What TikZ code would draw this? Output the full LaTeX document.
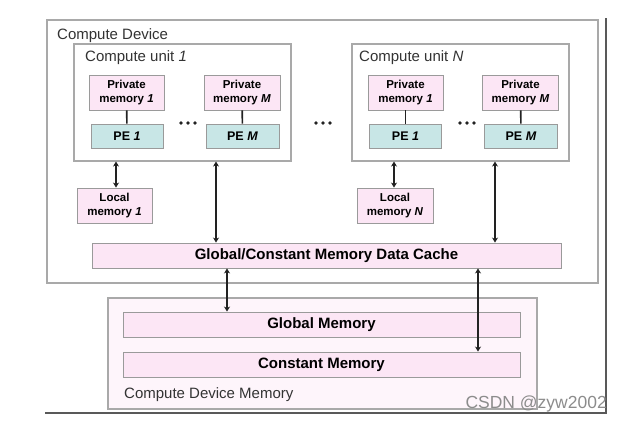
\documentclass[tikz,border=0pt]{standalone}
\usepackage{fontspec}
\setmainfont{Liberation Sans}
\usetikzlibrary{arrows.meta}
\definecolor{pinkfill}{HTML}{FCE6F5}
\definecolor{pinklight}{HTML}{FEF5FB}
\definecolor{pefill}{HTML}{C8E6E6}
\definecolor{boxline}{HTML}{9A9A9A}
\definecolor{darkline}{HTML}{222222}
\tikzset{
  framebox/.style={draw=boxline!85, line width=1.1pt, fill=white, inner sep=0pt},
  pmbox/.style={draw=boxline, line width=0.9pt, fill=pinkfill, inner sep=0pt,
    minimum width=75pt, minimum height=35pt, align=center,
    font=\fontsize{11.5}{13.5}\selectfont\bfseries},
  pebox/.style={draw=boxline, line width=0.9pt, fill=pefill, inner sep=0pt,
    minimum width=72pt, minimum height=24pt,
    font=\fontsize{12.5}{14}\selectfont\bfseries},
  barbox/.style={draw=boxline, line width=0.9pt, fill=pinkfill, inner sep=0pt,
    minimum height=25pt, font=\fontsize{15}{17}\selectfont\bfseries},
  lbl/.style={anchor=west, inner sep=0pt, text=black!80, font=\fontsize{15}{17}\selectfont},
  arr/.style={draw=darkline, line width=1.4pt, {Stealth[length=5pt,width=6pt]}-{Stealth[length=5pt,width=6pt]}},
  link/.style={draw=darkline, line width=1.6pt},
  dotm/.style={fill=darkline, circle, inner sep=0pt, minimum size=3.6pt}
}
\begin{document}
\begin{tikzpicture}[x=1pt,y=-1pt]
\useasboundingbox (0,0) rectangle (623,425);
% shadow frame
\draw[line width=2pt, draw=black!65] (45,413) -- (606,413) -- (606,18);
% compute device
\node[framebox, minimum width=551pt, minimum height=263pt] (dev) at (322.5,151.5) {};
\node[lbl] (devl) at (57,36) {Compute Device};
% compute units
\node[framebox, minimum width=217pt, minimum height=117pt] (cu1) at (182.5,102.5) {};
\node[framebox, minimum width=217pt, minimum height=117pt] (cuN) at (460.5,102.5) {};
\node[lbl] (cu1l) at (85,58) {Compute unit \textit{1}};
\node[lbl] (cuNl) at (359,58) {Compute unit \textit{N}};
% CU1 contents
\node[pmbox] (pm11) at (126.5,92.5) {Private\\memory \textit{1}};
\node[pebox] (pe11) at (127,136) {PE \textit{1}};
\node[pmbox, minimum width=76pt] (pm1M) at (242,92.5) {Private\\memory \textit{M}};
\node[pebox, minimum width=73pt] (pe1M) at (242.5,136) {PE \textit{M}};
% CUN contents
\node[pmbox] (pmN1) at (405.5,92.5) {Private\\memory \textit{1}};
\node[pebox] (peN1) at (405.5,136) {PE \textit{1}};
\node[pmbox, minimum width=76pt] (pmNM) at (520.5,92.5) {Private\\memory \textit{M}};
\node[pebox, minimum width=73pt] (peNM) at (521,136) {PE \textit{M}};
\draw[link] (pm11) -- (pe11);
\draw[link] (pm1M) -- (pe1M);
\draw[link] (pmN1) -- (peN1);
\draw[link] (pmNM) -- (peNM);
% dots
\foreach \cx in {188,323,467} {
  \node[dotm] at (\cx-7,123) {};
  \node[dotm] at (\cx,123) {};
  \node[dotm] at (\cx+7,123) {};
}
% local memories
\node[pmbox] (loc1) at (114.5,205.5) {Local\\memory \textit{1}};
\node[pmbox, minimum width=76pt] (locN) at (395,205.5) {Local\\memory \textit{N}};
\coordinate (x1) at (116,0);
\coordinate (xN) at (394,0);
\draw[arr] (cu1.south -| x1) -- (loc1.north -| x1);
\draw[arr] (cuN.south -| xN) -- (locN.north -| xN);
% cache
\node[barbox, minimum width=469pt] (cache) at (326.5,255.5) {Global/Constant Memory Data Cache};
\coordinate (xa) at (216,0);
\coordinate (xb) at (495,0);
\draw[arr] (cu1.south -| xa) -- (cache.north -| xa);
\draw[arr] (cuN.south -| xb) -- (cache.north -| xb);
% compute device memory
\node[draw=boxline!85, line width=1.1pt, fill=pinklight, inner sep=0pt, minimum width=429pt, minimum height=111pt] (cdm) at (322.5,353.5) {};
\node[barbox, minimum width=397pt] (gm) at (321.5,324.5) {Global Memory};
\node[barbox, minimum width=397pt] (cm) at (321.5,364.5) {Constant Memory};
\node[lbl] (cdml) at (124,395) {Compute Device Memory};
\coordinate (xc) at (227,0);
\coordinate (xd) at (478,0);
\draw[arr] (cache.south -| xc) -- (gm.north -| xc);
\draw[arr] (cache.south -| xd) -- (cm.north -| xd);
% watermark
\node[anchor=east, inner sep=0pt, text=black!45, font=\fontsize{17.5}{18}\selectfont] (wm) at (607,404) {CSDN @zyw2002};
\end{tikzpicture}
\end{document}
